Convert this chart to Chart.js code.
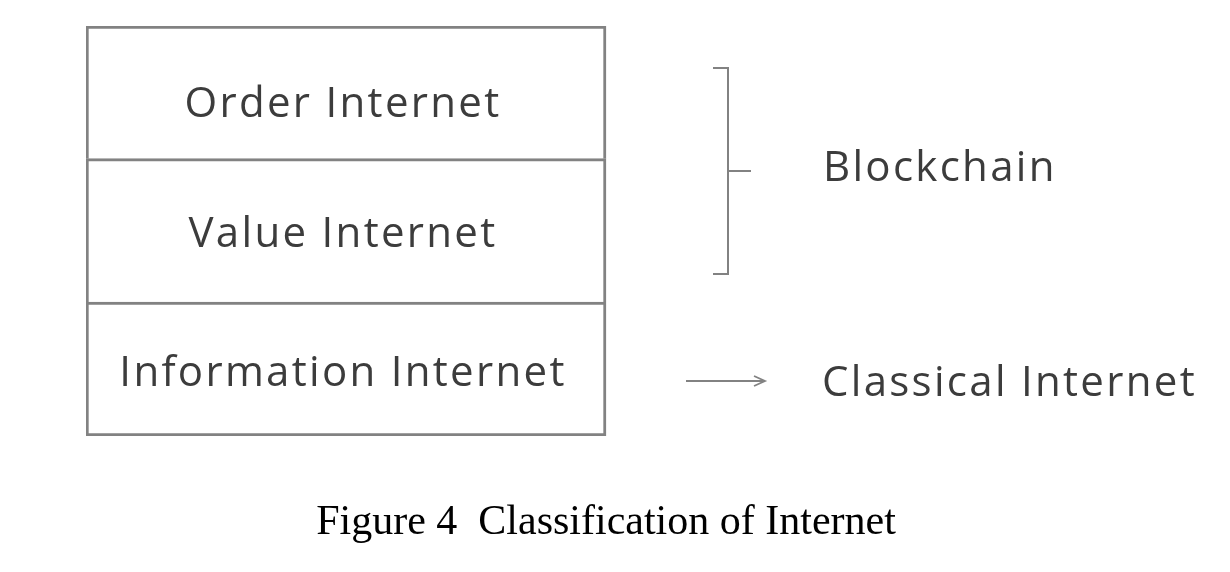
<!DOCTYPE html>
<html>
<head>
<meta charset="utf-8">
<script src="https://cdn.jsdelivr.net/npm/chart.js@4"></script>
<style>
  html, body { margin: 0; padding: 0; background: #fff; }
  #wrap { width: 1230px; height: 572px; }
</style>
</head>
<body>
<div id="wrap"><canvas id="layers"></canvas></div>
<script>
// layers from bottom to top, relative heights
const layerNames = ['Information Internet', 'Value Internet', 'Order Internet'];
const layerHeights = [1.0, 1.07, 0.99];
const columns = ['Internet', 'Role'];
const groupLabels = ['Blockchain', 'Classical Internet'];
const caption = 'Figure 4  Classification of Internet';

const lineGray = '#828282';
const textGray = '#3c3c3c';
const sansFont = '"Open Sans", "Noto Sans", sans-serif';

const total = layerHeights.reduce((a, b) => a + b, 0);

const datasets = layerNames.map((name, i) => ({
    label: name,
    data: [layerHeights[i], null],
    backgroundColor: '#ffffff',
    borderColor: lineGray,
    // shared edges are drawn only once
    borderWidth: i === 0 ? 3 : { top: 3, left: 3, right: 3, bottom: 0 },
    borderSkipped: false,
    barPercentage: 1,
    categoryPercentage: 1
}));

const annotate = {
    id: 'annotate',
    afterDatasetsDraw(chart) {
        const ctx = chart.ctx;
        const metas = layerNames.map((n, i) => chart.getDatasetMeta(i).data[0]);
        // the top label sits a bit low in its box in the original
        const drop = [5, 5, 13];

        ctx.save();
        ctx.fillStyle = textGray;
        ctx.font = '42px ' + sansFont;
        ctx.letterSpacing = '2.3px';
        ctx.textAlign = 'center';
        ctx.textBaseline = 'middle';
        metas.forEach((bar, i) => {
            const cy = (bar.y + bar.base) / 2;
            ctx.fillText(layerNames[i], bar.x - 3, cy + drop[i]);
        });

        const right = metas[0].x + metas[0].width / 2;
        const order = metas[2], value = metas[1], info = metas[0];

        // bracket over the two upper layers
        const bx = right + 122;
        const top = order.y + 42;
        const bottom = value.base - 28;
        const mid = (top + bottom) / 2;
        ctx.strokeStyle = lineGray;
        ctx.lineWidth = 2;
        ctx.beginPath();
        ctx.moveTo(bx - 15, top);
        ctx.lineTo(bx, top);
        ctx.lineTo(bx, bottom);
        ctx.lineTo(bx - 15, bottom);
        ctx.moveTo(bx, mid);
        ctx.lineTo(bx + 23, mid);
        ctx.stroke();

        ctx.textAlign = 'left';
        ctx.fillText(groupLabels[0], right + 217, mid - 2);

        // arrow for the bottom layer
        const ay = (info.y + info.base) / 2 + 12;
        const ax0 = right + 80, ax1 = right + 159;
        ctx.lineWidth = 1.8;
        ctx.beginPath();
        ctx.moveTo(ax0, ay);
        ctx.lineTo(ax1, ay);
        ctx.moveTo(ax1 - 11, ay - 5);
        ctx.lineTo(ax1, ay);
        ctx.lineTo(ax1 - 11, ay + 5);
        ctx.stroke();

        ctx.fillText(groupLabels[1], right + 216, ay + 3);
        ctx.restore();
    }
};

new Chart(document.getElementById('layers'), {
    type: 'bar',
    data: { labels: columns, datasets: datasets },
    options: {
        responsive: true,
        maintainAspectRatio: false,
        animation: false,
        layout: { padding: { left: 86, right: 104, top: 26, bottom: 0 } },
        scales: {
            x: { stacked: true, display: false },
            y: { stacked: true, display: false, min: 0, max: total }
        },
        plugins: {
            legend: { display: false },
            tooltip: { enabled: false },
            title: {
                display: true,
                position: 'bottom',
                text: caption,
                color: '#000',
                font: { family: '"Liberation Serif", "Times New Roman", serif', size: 42, weight: 'normal', lineHeight: 1 },
                padding: { top: 66, bottom: 28 }
            }
        }
    },
    plugins: [annotate]
});
</script>
</body>
</html>
